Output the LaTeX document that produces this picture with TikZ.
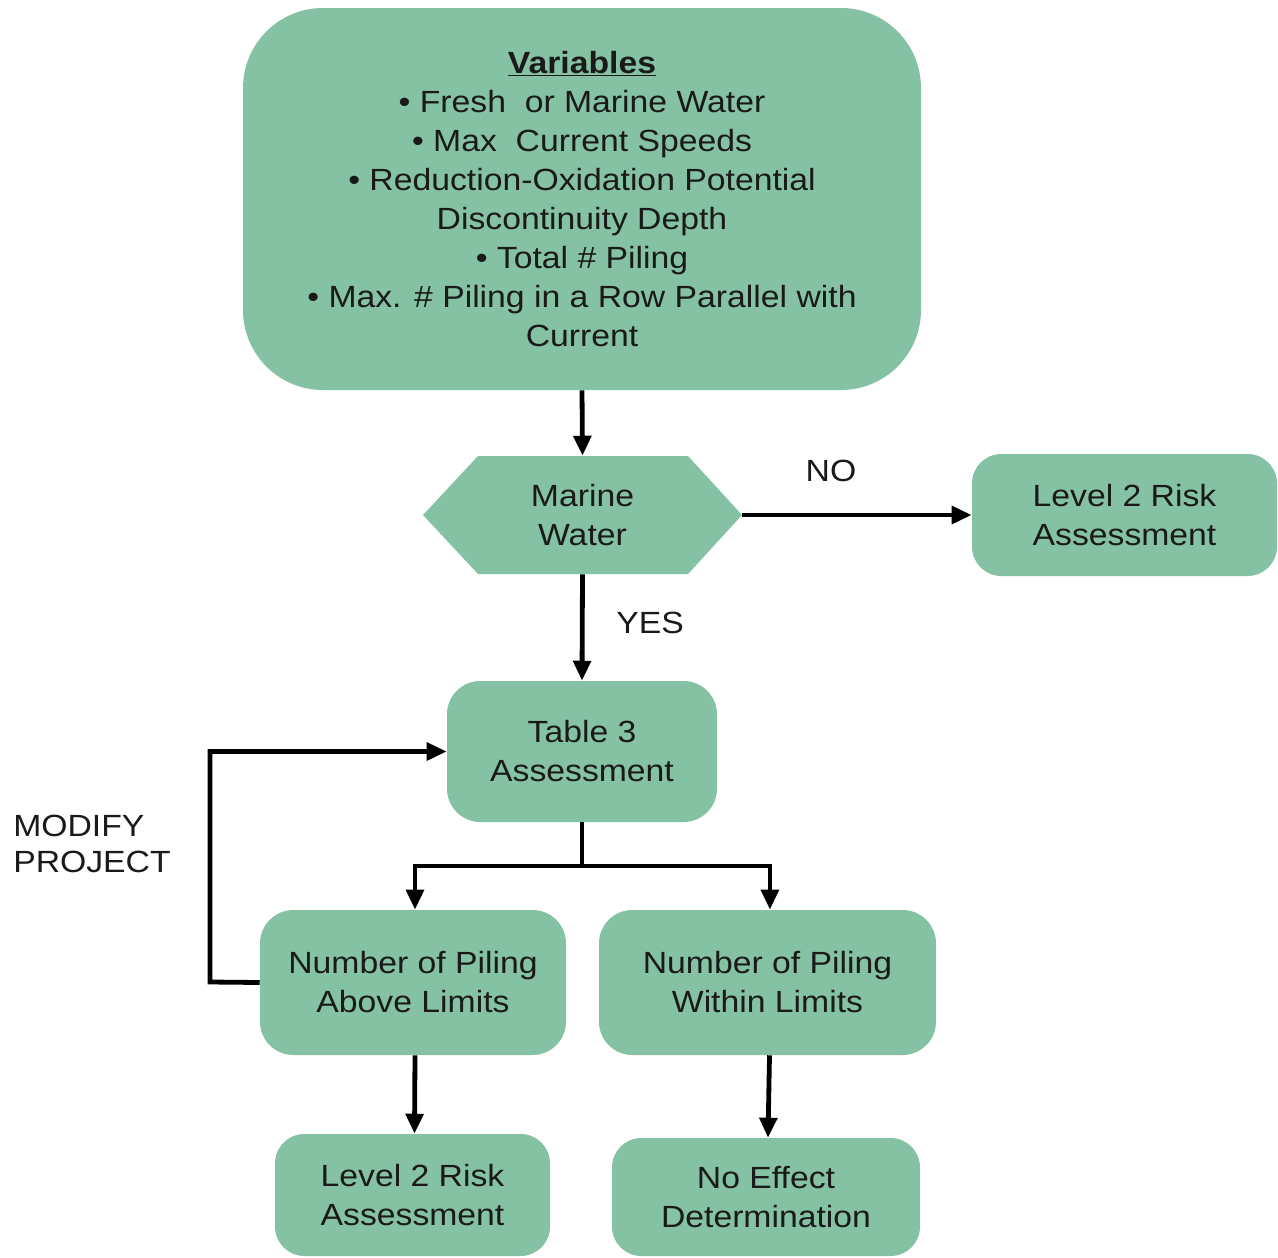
\documentclass[tikz,border=0pt]{standalone}
\usepackage{fontspec}
\setmainfont[FakeStretch=1.1]{Liberation Sans}
\usetikzlibrary{arrows.meta}
\definecolor{boxgreen}{HTML}{85C2A3}
\definecolor{inkgray}{HTML}{1A1A1A}
\tikzset{
  flowbox/.style={fill=boxgreen, draw=none, inner sep=0pt, align=center,
    text=inkgray, font=\fontsize{23}{29.25}\selectfont},
  flowlabel/.style={inner sep=0pt, text=inkgray, font=\fontsize{23}{27}\selectfont},
  flowarrow/.style={line width=3.6pt, -{Triangle[length=15pt,width=13pt]}},
  flowline/.style={line width=3.6pt},
}
\begin{document}
\begin{tikzpicture}[x=0.75pt,y=-0.75pt]
\useasboundingbox (0,0) rectangle (1278,1257);

% input variables
\node[flowbox, rounded corners=60pt, minimum width={678*0.75pt}, minimum height={382*0.75pt}]
  (vars) at (582,199) {\textbf{\underline{Variables}}\\
  • Fresh\ \ or Marine Water\\
  • Max\ \ Current Speeds\\
  • Reduction-Oxidation Potential\\
  Discontinuity Depth\\
  • Total \# Piling\\
  • Max. \# Piling in a Row Parallel with\\
  Current};

% decision: marine water (hexagon drawn behind a text node)
\fill[boxgreen] (423,515) -- (478,456) -- (688,456) -- (742,515) -- (688,574) -- (478,574) -- cycle;
\node[flowbox, fill=none, minimum width={319*0.75pt}, minimum height={118*0.75pt}]
  (marine) at (582.5,515) {Marine\\Water};

\node[flowbox, rounded corners=22pt, minimum width={305*0.75pt}, minimum height={122*0.75pt}]
  (lvlA) at (1124.5,515) {Level 2 Risk\\Assessment};

\node[flowbox, rounded corners=25pt, minimum width={270*0.75pt}, minimum height={141*0.75pt}]
  (table) at (582,751.5) {Table 3\\Assessment};

\node[flowbox, rounded corners=25pt, minimum width={306*0.75pt}, minimum height={145*0.75pt}]
  (above) at (413,982.5) {Number of Piling\\Above Limits};

\node[flowbox, rounded corners=25pt, minimum width={337*0.75pt}, minimum height={145*0.75pt}]
  (within) at (767.5,982.5) {Number of Piling\\Within Limits};

\node[flowbox, rounded corners=22pt, minimum width={275*0.75pt}, minimum height={122*0.75pt}]
  (lvlB) at (412.5,1195) {Level 2 Risk\\Assessment};

\node[flowbox, rounded corners=22pt, minimum width={308*0.75pt}, minimum height={118*0.75pt}]
  (noeff) at (766,1197) {No Effect\\Determination};

% labels
\node[flowlabel] (no) at (831,471) {NO};
\node[flowlabel] (yes) at (650,623) {YES};
\node[flowlabel, align=left, anchor=west] (modify) at (13,844) {MODIFY\\PROJECT};

% connectors
\coordinate (split) at (582,866);
\coordinate (loopcorner) at (210,982);
\draw[flowarrow] (vars.south) -- (marine.north);
\draw[flowarrow] (marine.east) -- (lvlA.west);
\draw[flowarrow] (marine.south) -- (table.north);
\draw[flowline] (table.south) -- (split);
\draw[flowarrow] (split) -| ([xshift=1.5pt]above.north);
\draw[flowarrow] (split) -| ([xshift=1.8pt]within.north);
\draw[flowarrow] (above.west) -- (loopcorner) |- (table.west);
\draw[flowarrow] ([xshift=1.5pt]above.south) -- ([xshift=1.5pt]lvlB.north);
\draw[flowarrow] ([xshift=1.5pt]within.south) -- ([xshift=1.5pt]noeff.north);
\end{tikzpicture}
\end{document}
